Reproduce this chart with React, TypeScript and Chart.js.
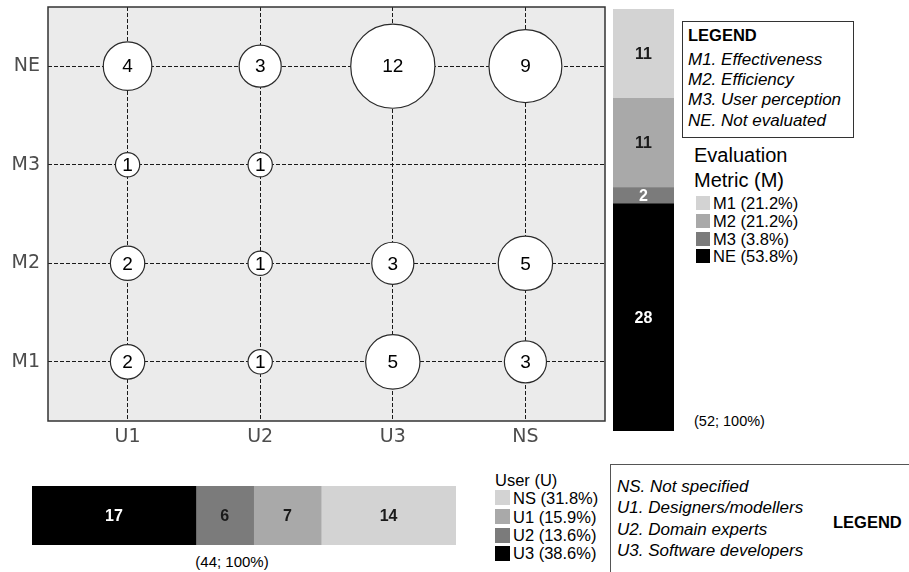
import React, { useEffect, useRef } from 'react';
import { Chart, registerables } from 'chart.js';
Chart.register(...registerables);

// ---------- data ----------
const users = ['U1', 'U2', 'U3', 'NS'];
const metrics = ['M1', 'M2', 'M3', 'NE'];
const countsM1 = [2, 1, 5, 3];
const countsM2 = [2, 1, 3, 5];
const countsM3 = [1, 1, 0, 0];
const countsNE = [4, 3, 12, 9];

const metricStackLabels = ['NE', 'M3', 'M2', 'M1'];
const metricStackValues = [28, 2, 11, 11];
const metricLegendLabels = ['M1', 'M2', 'M3', 'NE'];
const metricShares = ['21.2%', '21.2%', '3.8%', '53.8%'];
const metricNames = ['Effectiveness', 'Efficiency', 'User perception', 'Not evaluated'];
const metricTotalText = '(52; 100%)';

const userStackLabels = ['U3', 'U2', 'U1', 'NS'];
const userStackValues = [17, 6, 7, 14];
const userLegendLabels = ['NS', 'U1', 'U2', 'U3'];
const userShares = ['31.8%', '15.9%', '13.6%', '38.6%'];
const userNameLabels = ['NS', 'U1', 'U2', 'U3'];
const userNames = ['Not specified', 'Designers/modellers', 'Domain experts', 'Software developers'];
const userTotalText = '(44; 100%)';

// ---------- styles ----------
const ARIAL = '"Liberation Sans", Arial, Helvetica, sans-serif';
const DEJAVU = '"DejaVu Sans", sans-serif';
const shade: Record<string, string> = {
  M1: '#d3d3d3', M2: '#a9a9a9', M3: '#7b7b7b', NE: '#000000',
  NS: '#d3d3d3', U1: '#a9a9a9', U2: '#7b7b7b', U3: '#000000',
};
const labelInk: Record<string, string> = {
  M1: '#1a1a1a', M2: '#1a1a1a', M3: '#ffffff', NE: '#ffffff',
  NS: '#1a1a1a', U1: '#1a1a1a', U2: '#1a1a1a', U3: '#ffffff',
};

const plotFrame = {
  id: 'plotFrame',
  beforeDraw(chart: any) {
    const { ctx, chartArea: a } = chart;
    ctx.save();
    ctx.fillStyle = '#ebebeb';
    ctx.fillRect(a.left, a.top, a.right - a.left, a.bottom - a.top);
    ctx.restore();
  },
  afterDraw(chart: any) {
    const { ctx, chartArea: a } = chart;
    ctx.save();
    ctx.strokeStyle = '#333333';
    ctx.lineWidth = 1.5;
    ctx.strokeRect(a.left, a.top, a.right - a.left, a.bottom - a.top);
    ctx.restore();
  },
};

const bubbleLabels = {
  id: 'bubbleLabels',
  afterDatasetsDraw(chart: any) {
    const { ctx } = chart;
    const meta = chart.getDatasetMeta(0);
    const data = chart.data.datasets[0].data as any[];
    ctx.save();
    ctx.font = `19px ${ARIAL}`;
    ctx.fillStyle = '#000';
    ctx.textAlign = 'center';
    ctx.textBaseline = 'middle';
    meta.data.forEach((el: any, i: number) => {
      ctx.fillText(String(data[i].v), el.x, el.y + 1);
    });
    ctx.restore();
  },
};

const barLabels = {
  id: 'barLabels',
  afterDatasetsDraw(chart: any) {
    const { ctx } = chart;
    const horizontal = chart.options.indexAxis === 'y';
    ctx.save();
    ctx.font = `bold 16px ${ARIAL}`;
    ctx.textAlign = 'center';
    ctx.textBaseline = 'middle';
    chart.data.datasets.forEach((ds: any, di: number) => {
      const meta = chart.getDatasetMeta(di);
      meta.data.forEach((el: any, i: number) => {
        const cx = horizontal ? (el.x + el.base) / 2 : el.x;
        const cy = horizontal ? el.y : (el.y + el.base) / 2;
        ctx.fillStyle = labelInk[ds.label];
        ctx.fillText(String(ds.data[i]), cx, cy + 1);
      });
    });
    ctx.restore();
  },
};

function zeroPad(s: any) {
  s.paddingTop = 0; s.paddingBottom = 0; s.paddingLeft = 0; s.paddingRight = 0;
}

function bubbleConfig(): any {
  const rows = [countsM1, countsM2, countsM3, countsNE];
  const pts: any[] = [];
  rows.forEach((row, yi) => {
    row.forEach((v, xi) => {
      if (v > 0) pts.push({ x: xi, y: yi, r: 12.15 * Math.sqrt(v), v });
    });
  });
  const tickFont = { family: DEJAVU, size: 19 };
  return {
    type: 'bubble',
    data: {
      datasets: [{
        label: 'count',
        data: pts,
        backgroundColor: '#ffffff',
        borderColor: '#2a2a2a',
        borderWidth: 1.2,
      }],
    },
    options: {
      responsive: false,
      animation: false,
      devicePixelRatio: 1,
      layout: { autoPadding: false, padding: { top: 7, right: 15, left: 0, bottom: 0 } },
      plugins: { legend: { display: false }, tooltip: { enabled: false } },
      scales: {
        x: {
          type: 'linear', min: -0.6, max: 3.6,
          afterBuildTicks: (s: any) => { s.ticks = users.map((_, i) => ({ value: i })); },
          afterFit: (s: any) => { s.height = 39; zeroPad(s); },
          ticks: { callback: (v: any) => users[v], font: tickFont, color: '#4d4d4d', padding: 5, maxRotation: 0, autoSkip: false },
          grid: { color: '#1a1a1a', lineWidth: 1, drawTicks: false, tickLength: 0 },
          border: { display: false, dash: [4, 2] },
        },
        y: {
          type: 'linear', min: -0.6, max: 3.6,
          afterBuildTicks: (s: any) => { s.ticks = metrics.map((_, i) => ({ value: i })); },
          afterFit: (s: any) => { s.width = 48; zeroPad(s); },
          ticks: { callback: (v: any) => metrics[v], font: tickFont, color: '#4d4d4d', padding: 8, autoSkip: false },
          grid: { color: '#1a1a1a', lineWidth: 1, drawTicks: false, tickLength: 0 },
          border: { display: false, dash: [4, 2] },
        },
      },
    },
    plugins: [plotFrame, bubbleLabels],
  };
}

function stackConfig(labels: string[], values: number[], total: number, horizontal: boolean): any {
  return {
    type: 'bar',
    data: {
      labels: ['all'],
      datasets: labels.map((l, i) => ({
        label: l,
        data: [values[i]],
        backgroundColor: shade[l],
        borderWidth: 0,
        barPercentage: 1,
        categoryPercentage: 1,
      })),
    },
    options: {
      indexAxis: horizontal ? 'y' : 'x',
      responsive: false,
      animation: false,
      devicePixelRatio: 1,
      layout: { autoPadding: false, padding: 0 },
      plugins: { legend: { display: false }, tooltip: { enabled: false } },
      scales: horizontal
        ? { x: { display: false, stacked: true, min: 0, max: total }, y: { display: false, stacked: true } }
        : { x: { display: false, stacked: true }, y: { display: false, stacked: true, min: 0, max: total } },
    },
    plugins: [barLabels],
  };
}

function ChartCanvas({ left, top, width, height, make }: any) {
  const ref = useRef<HTMLCanvasElement>(null);
  useEffect(() => {
    const chart = new Chart(ref.current as HTMLCanvasElement, make());
    return () => chart.destroy();
  }, []);
  return (
    <canvas ref={ref} width={width} height={height}
      style={{ position: 'absolute', left, top, width, height }} />
  );
}

function Txt({ x, y, size, children, weight, italic, center, family }: any) {
  const lh = Math.round(size * 1.2);
  return (
    <div style={{
      position: 'absolute', left: x, top: y - lh / 2, height: lh, lineHeight: `${lh}px`,
      fontSize: size, fontFamily: family || ARIAL, fontWeight: weight || 'normal',
      fontStyle: italic ? 'italic' : 'normal', whiteSpace: 'nowrap', color: '#000',
      transform: center ? 'translateX(-50%)' : undefined,
    }}>{children}</div>
  );
}

function Swatch({ x, y, w, h, color }: any) {
  return <div style={{ position: 'absolute', left: x, top: y - h / 2, width: w, height: h, background: color }} />;
}

export default function App() {
  const metricLegendY = [202.7, 220.5, 238.5, 256];
  const userLegendY = [497.7, 516.5, 535, 553];
  return (
    <div style={{ position: 'absolute', left: 0, top: 0, width: 909, height: 572, overflow: 'hidden', background: '#fff' }}>
      <ChartCanvas left={0} top={0} width={620} height={460} make={bubbleConfig} />
      <ChartCanvas left={613} top={9} width={61} height={422}
        make={() => stackConfig(metricStackLabels, metricStackValues, 52, false)} />
      <ChartCanvas left={32} top={486} width={424} height={59}
        make={() => stackConfig(userStackLabels, userStackValues, 44, true)} />

      {/* metric legend box */}
      <div style={{ position: 'absolute', left: 682, top: 21, width: 170, height: 115, border: '1px solid #333' }} />
      <Txt x={688} y={35} size={16.5} weight="bold">LEGEND</Txt>
      {metricLegendLabels.map((m, i) => (
        <Txt key={m} x={688} y={59.5 + i * 20.4} size={17} italic>{`${m}. ${metricNames[i]}`}</Txt>
      ))}
      <Txt x={694} y={155} size={20}>Evaluation</Txt>
      <Txt x={694} y={180} size={20}>Metric (M)</Txt>
      {metricLegendLabels.map((m, i) => (
        <React.Fragment key={m}>
          <Swatch x={696} y={metricLegendY[i]} w={14} h={14} color={shade[m]} />
          <Txt x={713} y={metricLegendY[i]} size={16.5}>{`${m} (${metricShares[i]})`}</Txt>
        </React.Fragment>
      ))}
      <Txt x={694} y={421} size={14.5}>{metricTotalText}</Txt>

      {/* user legend */}
      <Txt x={232} y={561.5} size={15} center>{userTotalText}</Txt>
      <Txt x={495} y={480} size={16.5}>User (U)</Txt>
      {userLegendLabels.map((u, i) => (
        <React.Fragment key={u}>
          <Swatch x={495} y={userLegendY[i]} w={15} h={15} color={shade[u]} />
          <Txt x={513} y={userLegendY[i]} size={16.5}>{`${u} (${userShares[i]})`}</Txt>
        </React.Fragment>
      ))}
      <div style={{ position: 'absolute', left: 610, top: 464, width: 400, height: 200, border: '1px solid #555' }} />
      {userNameLabels.map((u, i) => (
        <Txt key={u} x={617} y={486.7 + i * 21.4} size={17} italic>{`${u}. ${userNames[i]}`}</Txt>
      ))}
      <Txt x={833} y={521.7} size={16.5} weight="bold">LEGEND</Txt>
    </div>
  );
}
